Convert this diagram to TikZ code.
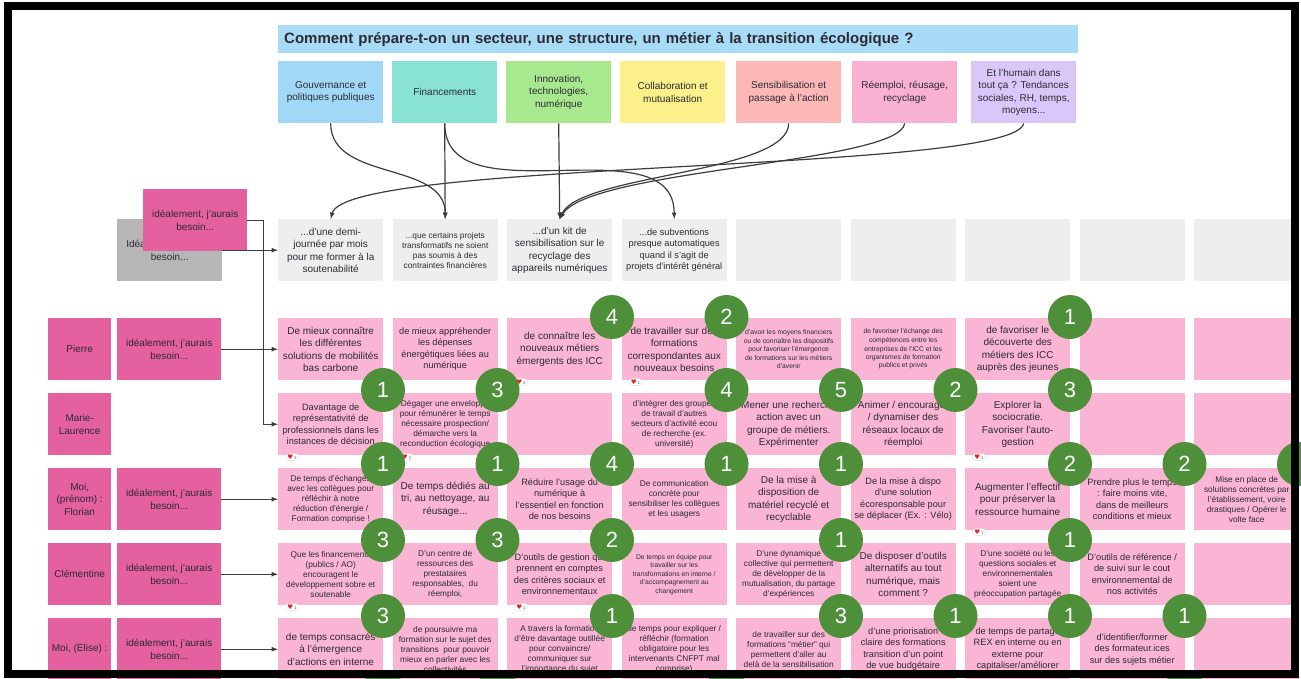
\documentclass[tikz,border=0pt]{standalone}
\usepackage{fontspec}
\setmainfont{Liberation Sans}
\newfontfamily\dejavu{DejaVu Sans}
\usetikzlibrary{calc}

\definecolor{ink}{HTML}{2E2A33}
\definecolor{wirecol}{HTML}{3C3C3C}
\definecolor{titlebar}{HTML}{A8DCF6}
\definecolor{govcol}{HTML}{A0D8F6}
\definecolor{fincol}{HTML}{88E3D4}
\definecolor{innocol}{HTML}{A8E98F}
\definecolor{collcol}{HTML}{FBF089}
\definecolor{senscol}{HTML}{FBB8B6}
\definecolor{reemcol}{HTML}{F9B1D1}
\definecolor{humcol}{HTML}{D8C7F8}
\definecolor{cardpink}{HTML}{F9B5D3}
\definecolor{hotpink}{HTML}{E4609F}
\definecolor{greycard}{HTML}{EEEEEE}
\definecolor{greybox}{HTML}{B6B6B6}
\definecolor{votegreen}{HTML}{4E8F3A}
\definecolor{heartred}{HTML}{E0262E}

\newcommand\heartglyph{{\dejavu\fontsize{6.5}{6.5}\selectfont\color{heartred}♥}}

\tikzset{
  fA/.style={font=\fontsize{10}{12.5}\selectfont},
  fB/.style={font=\fontsize{9.2}{11.5}\selectfont},
  fC/.style={font=\fontsize{8.3}{10}\selectfont},
  fD/.style={font=\fontsize{6.8}{8.5}\selectfont},
  sheet/.style={anchor=north west,minimum width=105pt,minimum height=62pt,inner sep=1pt,align=center,text=ink},
  card/.style={sheet,fill=cardpink},
  greysheet/.style={sheet,fill=greycard},
  topic/.style={sheet,fA},
  namebox/.style={sheet,fill=hotpink,fA},
  vote/.style={circle,fill=votegreen,minimum size=44pt,inner sep=0pt,text=white,font=\fontsize{22}{22}\selectfont},
  likes/.style={fill=white,draw=black!12,rounded corners=3pt,inner xsep=2pt,inner ysep=1pt,text=black!60,font=\fontsize{4.5}{5}\selectfont},
  wire/.style={->,>=latex,draw=wirecol,line width=1.2pt},
}

\begin{document}
\begin{tikzpicture}[x=1pt,y=-1pt]
	\useasboundingbox (0,0) rectangle (1301,679);

	% question and themes
	\node[anchor=north west,fill=titlebar,text width=788pt,align=left,inner xsep=6pt,inner ysep=0pt,minimum height=28pt,text=ink,font=\bfseries\fontsize{15}{15}\selectfont] (title) at (278,25) {Comment prépare-t-on un secteur, une structure, un métier à la transition écologique ?};

	\node[topic,fill=govcol] (gov) at (278,61) {Gouvernance et\\politiques publiques};
	\node[topic,fill=fincol] (fin) at (392,61) {Financements};
	\node[topic,fill=innocol] (inno) at (506,61) {Innovation,\\technologies,\\numérique};
	\node[topic,fill=collcol] (coll) at (620,61) {Collaboration et\\mutualisation};
	\node[topic,fill=senscol] (sens) at (736,61) {Sensibilisation et\\passage à l'action};
	\node[topic,fill=reemcol] (reem) at (852,61) {Réemploi, réusage,\\recyclage};
	\node[topic,fill=humcol] (hum) at (971,61) {Et l'humain dans\\tout ça ? Tendances\\sociales, RH, temps,\\moyens...};

	% grey row
	\node[sheet,fill=greybox,fA] (bg) at (117,219) {Idéalement, j'aurais\\besoin...};
	\node[greysheet,fA] (g1) at (278,219) {...d'une demi-\\journée par mois\\pour me former à la\\soutenabilité};
	\node[greysheet,fC] (g2) at (392.5,219) {...que certains projets\\transformatifs ne soient\\pas soumis à des\\contraintes financières};
	\node[greysheet,fA] (g3) at (507,219) {...d'un kit de\\sensibilisation sur le\\recyclage des\\appareils numériques};
	\node[greysheet,fB] (g4) at (621.5,219) {...de subventions\\presque automatiques\\quand il s'agit de\\projets d'intérêt général};
	\node[greysheet] (g5) at (736,219) {};
	\node[greysheet] (g6) at (850.5,219) {};
	\node[greysheet] (g7) at (965,219) {};
	\node[greysheet] (g8) at (1079.5,219) {};
	\node[greysheet] (g9) at (1194,219) {};
	\node[namebox,minimum width=104pt] (bt) at (143,189) {idéalement, j'aurais\\besoin...};

	% people
	\node[namebox,minimum width=63pt] (pierre) at (48,318) {Pierre};
	\node[namebox,minimum width=63pt] (marie) at (48,393) {Marie-\\Laurence};
	\node[namebox,minimum width=63pt] (florian) at (48,468) {Moi,\\(prénom) :\\Florian};
	\node[namebox,minimum width=63pt] (clem) at (48,543) {Clémentine};
	\node[namebox,minimum width=63pt] (elise) at (48,618) {Moi, (Elise) :};
	\node[namebox,minimum width=104pt] (bp) at (117,318) {idéalement, j'aurais\\besoin...};
	\node[namebox,minimum width=104pt] (bf) at (117,468) {idéalement, j'aurais\\besoin...};
	\node[namebox,minimum width=104pt] (bc) at (117,543) {idéalement, j'aurais\\besoin...};
	\node[namebox,minimum width=104pt] (be) at (117,618) {idéalement, j'aurais\\besoin...};

	% Pierre
	\node[card,fA] (p1) at (278,318) {De mieux connaître\\les différentes\\solutions de mobilités\\bas carbone};
	\node[card,fB] (p2) at (392.5,318) {de mieux appréhender\\les dépenses\\énergétiques liées au\\numérique};
	\node[card,fA] (p3) at (507,318) {de connaître les\\nouveaux métiers\\émergents des ICC};
	\node[card,fA] (p4) at (621.5,318) {de travailler sur des\\formations\\correspondantes aux\\nouveaux besoins};
	\node[card,fD] (p5) at (736,318) {d'avoir les moyens financiers\\ou de connaître les dispositifs\\pour favoriser l'émergence\\de formations sur les métiers\\d'avenir};
	\node[card,fD] (p6) at (850.5,318) {de favoriser l'échange des\\compétences entre les\\entreprises de l'ICC et les\\organismes de formation\\publics et privés};
	\node[card,fA] (p7) at (965,318) {de favoriser le\\découverte des\\métiers des ICC\\auprès des jeunes};
	\node[card] (p8) at (1079.5,318) {};
	\node[card] (p9) at (1194,318) {};

	% Marie-Laurence
	\node[card,fB] (m1) at (278,393) {Davantage de\\représentativité de\\professionnels dans les\\instances de décision};
	\node[card,fC] (m2) at (392.5,393) {Dégager une enveloppe\\pour rémunérer le temps\\nécessaire prospection/\\démarche vers la\\reconduction écologique};
	\node[card] (m3) at (507,393) {};
	\node[card,fC] (m4) at (621.5,393) {d'intégrer des groupes\\de travail d'autres\\secteurs d'activité ecou\\de recherche (ex.\\université)};
	\node[card,fA] (m5) at (736,393) {Mener une recherche\\action avec un\\groupe de métiers.\\Expérimenter};
	\node[card,fA] (m6) at (850.5,393) {Animer / encourager\\/ dynamiser des\\réseaux locaux de\\réemploi};
	\node[card,fA] (m7) at (965,393) {Explorer la\\sociocratie.\\Favoriser l'auto-\\gestion};
	\node[card] (m8) at (1079.5,393) {};
	\node[card] (m9) at (1194,393) {};

	% Florian
	\node[card,fC] (f1) at (278,468) {De temps d'échanges\\avec les collègues pour\\réfléchir à notre\\réduction d'énergie /\\Formation comprise !};
	\node[card,fA] (f2) at (392.5,468) {De temps dédiés au\\tri, au nettoyage, au\\réusage...};
	\node[card,fB] (f3) at (507,468) {Réduire l'usage du\\numérique à\\l'essentiel en fonction\\de nos besoins};
	\node[card,fC] (f4) at (621.5,468) {De communication\\concrète pour\\sensibiliser les collègues\\et les usagers};
	\node[card,fA] (f5) at (736,468) {De la mise à\\disposition de\\matériel recyclé et\\recyclable};
	\node[card,fB] (f6) at (850.5,468) {De la mise à dispo\\d'une solution\\écoresponsable pour\\se déplacer (Ex. : Vélo)};
	\node[card,fA] (f7) at (965,468) {Augmenter l'effectif\\pour préserver la\\ressource humaine};
	\node[card,fB] (f8) at (1079.5,468) {Prendre plus le temps\\: faire moins vite,\\dans de meilleurs\\conditions et mieux};
	\node[card,fC] (f9) at (1194,468) {Mise en place de\\solutions concrètes par\\l'établissement, voire\\drastiques / Opérer le\\volte face};

	% Clementine
	\node[card,fC] (c1) at (278,543) {Que les financements\\(publics / AO)\\encouragent le\\développement sobre et\\soutenable};
	\node[card,fC] (c2) at (392.5,543) {D'un centre de\\ressources des\\prestataires\\responsables,~ du\\réemploi,};
	\node[card,fB] (c3) at (507,543) {D'outils de gestion qui\\prennent en comptes\\des critères sociaux et\\environnementaux};
	\node[card,fD] (c4) at (621.5,543) {De temps en équipe pour\\travailler sur les\\transformations en interne /\\d'accompagnement au\\changement};
	\node[card,fC] (c5) at (736,543) {D'une dynamique\\collective qui permettent\\de développer de la\\mutualisation, du partage\\d'expériences};
	\node[card,fA] (c6) at (850.5,543) {De disposer d'outils\\alternatifs au tout\\numérique, mais\\comment ?};
	\node[card,fC] (c7) at (965,543) {D'une société ou les\\questions sociales et\\environnementales\\soient une\\préoccupation partagée};
	\node[card,fB] (c8) at (1079.5,543) {D'outils de référence /\\de suivi sur le cout\\environnemental de\\nos activités};
	\node[card] (c9) at (1194,543) {};

	% Elise
	\node[card,fA] (e1) at (278,618) {de temps consacrés\\à l'émergence\\d'actions en interne};
	\node[card,fC] (e2) at (392.5,618) {de poursuivre ma\\formation sur le sujet des\\transitions~ pour pouvoir\\mieux en parler avec les\\collectivités};
	\node[card,fC] (e3) at (507,618) {A travers la formation\\d'être davantage outillée\\pour convaincre/\\communiquer sur\\l'importance du sujet};
	\node[card,fC] (e4) at (621.5,618) {de temps pour expliquer /\\réfléchir (formation\\obligatoire pour les\\intervenants CNFPT mal\\comprise)};
	\node[card,fC] (e5) at (736,618) {de travailler sur des\\formations “métier” qui\\permettent d'aller au\\delà de la sensibilisation};
	\node[card,fB] (e6) at (850.5,618) {d'une priorisation\\claire des formations\\transition d'un point\\de vue budgétaire};
	\node[card,fB] (e7) at (965,618) {de temps de partage\\REX en interne ou en\\externe pour\\capitaliser/améliorer};
	\node[card,fB] (e8) at (1079.5,618) {d'identifier/former\\des formateur.ices\\sur des sujets métier};
	\node[card] (e9) at (1194,618) {};

	% links
	\path[wire] (gov.south) to[out=-90,in=90] (g2.north);
	\path[wire] (fin.south) -- (g2.north);
	\path[wire] (fin.south) to[out=-90,in=90] (g4.north);
	\path[wire] (inno.south) -- (g3.north);
	\path[wire] (sens.south) .. controls +(0,50) and +(20,-45) .. (g3.north);
	\path[wire] (reem.south) .. controls +(-5,40) and +(30,-50) .. (g3.north);
	\path[wire] (hum.south) .. controls +(-10,50) and +(15,-60) .. (g1.north);
	\path[wire] (bg.east) -- (g1.west);
	\path[wire] (bt.east) -- ++(16,0) |- (m1.west);
	\path[wire] (bp.east) -- (p1.west);
	\path[wire] (bf.east) -- (f1.west);
	\path[wire] (bc.east) -- (c1.west);
	\path[wire] (be.east) -- (e1.west);

	% likes
	\node[likes] (h1) at (521,382) {\heartglyph\,2};
	\node[likes] (h2) at (635.5,382) {\heartglyph\,1};
	\node[likes] (h3) at (292,457) {\heartglyph\,1};
	\node[likes] (h4) at (406.5,457) {\heartglyph\,2};
	\node[likes] (h5) at (979,457) {\heartglyph\,1};
	\node[likes] (h6) at (979,532) {\heartglyph\,1};
	\node[likes] (h7) at (292,607) {\heartglyph\,1};
	\node[likes] (h8) at (521,607) {\heartglyph\,1};

	% votes
	\node[vote] (v1) at (612,317) {4};
	\node[vote] (v2) at (726.5,317) {2};
	\node[vote] (v3) at (1070,317) {1};
	\node[vote] (v4) at (383,390) {1};
	\node[vote] (v5) at (497.5,390) {3};
	\node[vote] (v6) at (726.5,390) {4};
	\node[vote] (v7) at (841,390) {5};
	\node[vote] (v8) at (955.5,390) {2};
	\node[vote] (v9) at (1070,390) {3};
	\node[vote] (v10) at (383,464) {1};
	\node[vote] (v11) at (497.5,464) {1};
	\node[vote] (v12) at (612,464) {4};
	\node[vote] (v13) at (726.5,464) {1};
	\node[vote] (v14) at (841,464) {1};
	\node[vote] (v15) at (1070,464) {2};
	\node[vote] (v16) at (1184.5,464) {2};
	\node[vote] (v17) at (1299,464) {};
	\node[vote] (v18) at (383,540) {3};
	\node[vote] (v19) at (497.5,540) {3};
	\node[vote] (v20) at (612,540) {2};
	\node[vote] (v21) at (841,540) {1};
	\node[vote] (v22) at (1070,540) {1};
	\node[vote] (v23) at (383,616) {3};
	\node[vote] (v24) at (612,616) {1};
	\node[vote] (v25) at (841,616) {3};
	\node[vote] (v26) at (955.5,616) {1};
	\node[vote] (v27) at (1070,616) {1};
	\node[vote] (v28) at (1184.5,616) {1};
	\node[vote] (v29) at (383,692) {};
	\node[vote] (v30) at (497.5,692) {};
	\node[vote] (v31) at (726.5,692) {};
	\node[vote] (v32) at (1184.5,692) {};

	% frame
	\draw[line width=8pt] (7.5,6.5) rectangle (1295,674);

\end{tikzpicture}
\end{document}
